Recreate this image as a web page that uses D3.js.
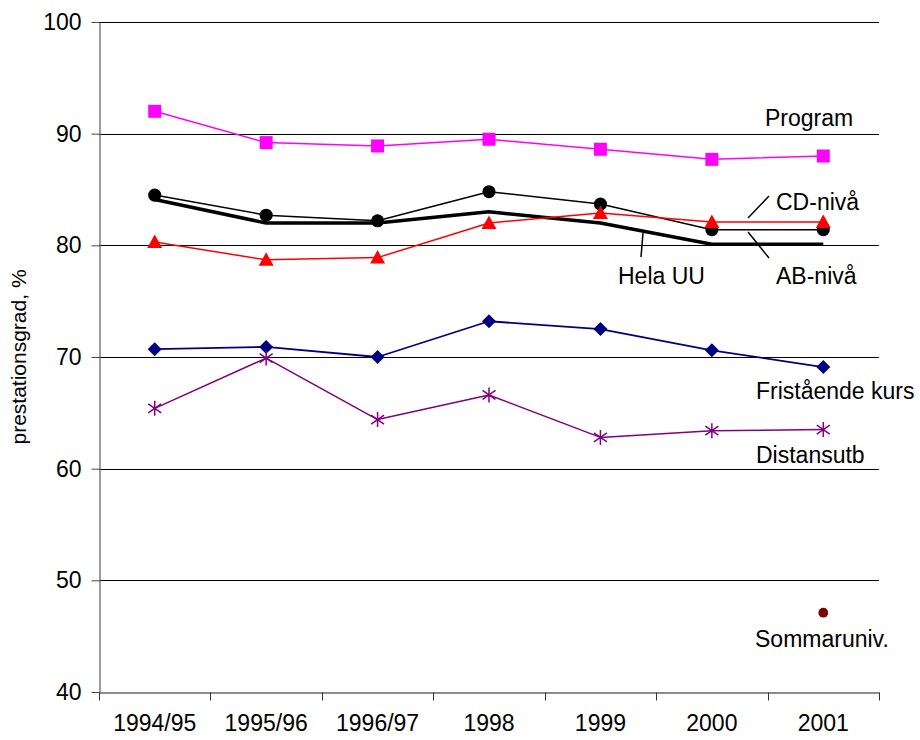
<!DOCTYPE html>
<html>
<head>
<meta charset="utf-8">
<script src="https://cdn.jsdelivr.net/npm/d3@7"></script>
<style>
	body { margin: 0; background: #fff; }
	svg text { font-family: "Liberation Sans", Arial, sans-serif; fill: #000; }
</style>
</head>
<body>
<script>
// data
const years = ["1994/95", "1995/96", "1996/97", "1998", "1999", "2000", "2001"];
const yTicks = [40, 50, 60, 70, 80, 90, 100];

const program    = [92.0, 89.2, 88.9, 89.5, 88.6, 87.7, 88.0];
const abNiva     = [84.5, 82.7, 82.2, 84.8, 83.7, 81.4, 81.4];
const cdNiva     = [80.3, 78.7, 78.9, 82.0, 82.9, 82.1, 82.1];
const helaUU     = [84.1, 82.0, 82.0, 83.0, 82.0, 80.1, 80.1];
const fristaende = [70.7, 70.9, 70.0, 73.2, 72.5, 70.6, 69.1];
const distansutb = [65.4, 69.9, 64.4, 66.6, 62.8, 63.4, 63.5];
const sommaruniv = [null, null, null, null, null, null, 47.1];

const w = 920, h = 740,
	  padLeft = 99, padRight = 879, padTop = 22, padBottom = 692;

const xScale = d3.scaleBand()
				 .domain(years)
				 .range([padLeft, padRight]),
	  xMid = d => xScale(d) + xScale.bandwidth() / 2,
	  yScale = d3.scaleLinear()
				 .domain([40, 100])
				 .range([padBottom, padTop]);

const svg = d3.select("body")
			  .append("svg")
			  .attr("width", w)
			  .attr("height", h);

// grid lines
svg.append("g")
   .selectAll("line")
   .data(yTicks.filter(t => t > 40))
   .enter()
   .append("line")
   .attr("x1", padLeft)
   .attr("x2", padRight)
   .attr("y1", d => Math.round(yScale(d)) + 0.5)
   .attr("y2", d => Math.round(yScale(d)) + 0.5)
   .attr("stroke", "#000")
   .attr("stroke-width", 1);

// axes
const yAxis = d3.axisLeft(yScale)
				.tickValues(yTicks)
				.tickSizeInner(8)
				.tickSizeOuter(0)
				.tickPadding(10);

const yG = svg.append("g")
			  .attr("transform", "translate(" + (padLeft + 0.5) + ",0)")
			  .call(yAxis);

const xAxis = d3.axisBottom(xScale)
				.tickSize(0)
				.tickPadding(22);

const xG = svg.append("g")
			  .attr("transform", "translate(0," + (padBottom + 0.5) + ")")
			  .call(xAxis);

// ticks between the categories
xG.selectAll("line.sep")
  .data(years.concat(["end"]))
  .enter()
  .append("line")
  .attr("class", "sep")
  .attr("x1", (d, i) => Math.round(padLeft + i * xScale.bandwidth()) + 0.5)
  .attr("x2", (d, i) => Math.round(padLeft + i * xScale.bandwidth()) + 0.5)
  .attr("y1", 0)
  .attr("y2", 8)
  .attr("stroke", "#333");

[yG, xG].forEach(g => {
	g.select(".domain").attr("stroke", "#666").attr("stroke-width", 1.3);
	g.selectAll(".tick line").attr("stroke", "#444");
	g.selectAll("text").style("font-size", "23px").attr("fill", "#000");
});

// y axis title
svg.append("text")
   .text("prestationsgrad, %")
   .attr("transform", "translate(26," + ((padTop + padBottom) / 2) + ") rotate(-90)")
   .attr("text-anchor", "middle")
   .style("font-size", "21px");

const line = d3.line()
			   .defined(d => d[1] != null)
			   .x(d => xMid(d[0]))
			   .y(d => yScale(d[1]));

const pairs = vals => years.map((y, i) => [y, vals[i]]);

const drawLine = (vals, color, width) => {
	svg.append("path")
	   .datum(pairs(vals))
	   .attr("d", line)
	   .attr("fill", "none")
	   .attr("stroke", color)
	   .attr("stroke-width", width)
	   .attr("stroke-linejoin", "round");
};

const drawMarks = (vals, shape, color, filled) => {
	svg.append("g")
	   .selectAll("path")
	   .data(pairs(vals).filter(d => d[1] != null))
	   .enter()
	   .append("path")
	   .attr("d", shape)
	   .attr("transform", d => "translate(" + xMid(d[0]) + "," + yScale(d[1]) + ")")
	   .attr("fill", filled ? color : "none")
	   .attr("stroke", color)
	   .attr("stroke-width", filled ? 0 : 1.5);
};

const square = "M-6.5,-6.5H6.5V6.5H-6.5Z",
	  circle = d3.symbol(d3.symbolCircle, 135)(),
	  dot = d3.symbol(d3.symbolCircle, 75)(),
	  triangle = "M0,-7.5L7.5,6L-7.5,6Z",
	  diamond = "M0,-7L7,0L0,7L-7,0Z",
	  star = "M0,-7.5V7.5M-6.5,-4.5L6.5,4.5M-6.5,4.5L6.5,-4.5";

drawLine(helaUU, "#000", 3.5);
drawLine(abNiva, "#000", 1.5);
drawMarks(abNiva, circle, "#000", true);
drawLine(cdNiva, "#ff0000", 1.5);
drawMarks(cdNiva, triangle, "#ff0000", true);
drawLine(program, "#ff00ff", 1.5);
drawMarks(program, square, "#ff00ff", true);
drawLine(fristaende, "#000080", 1.8);
drawMarks(fristaende, diamond, "#000080", true);
drawLine(distansutb, "#800080", 1.5);
drawMarks(distansutb, star, "#800080", false);
drawMarks(sommaruniv, dot, "#800000", true);

// series labels
const labels = [
	["Program", 765, 126],
	["CD-nivå", 776, 210],
	["AB-nivå", 776, 284],
	["Hela UU", 618, 284],
	["Fristående kurs", 756, 399],
	["Distansutb", 756, 463],
	["Sommaruniv.", 755, 647]
];

svg.append("g")
   .selectAll("text")
   .data(labels)
   .enter()
   .append("text")
   .text(d => d[0])
   .attr("x", d => d[1])
   .attr("y", d => d[2])
   .style("font-size", "23px");

// leader lines
const leaders = [
	[748, 218, 769, 196],
	[748, 232, 769, 258],
	[643, 233, 641, 257]
];

svg.append("g")
   .selectAll("line")
   .data(leaders)
   .enter()
   .append("line")
   .attr("x1", d => d[0])
   .attr("y1", d => d[1])
   .attr("x2", d => d[2])
   .attr("y2", d => d[3])
   .attr("stroke", "#000")
   .attr("stroke-width", 1.5);
</script>
</body>
</html>
